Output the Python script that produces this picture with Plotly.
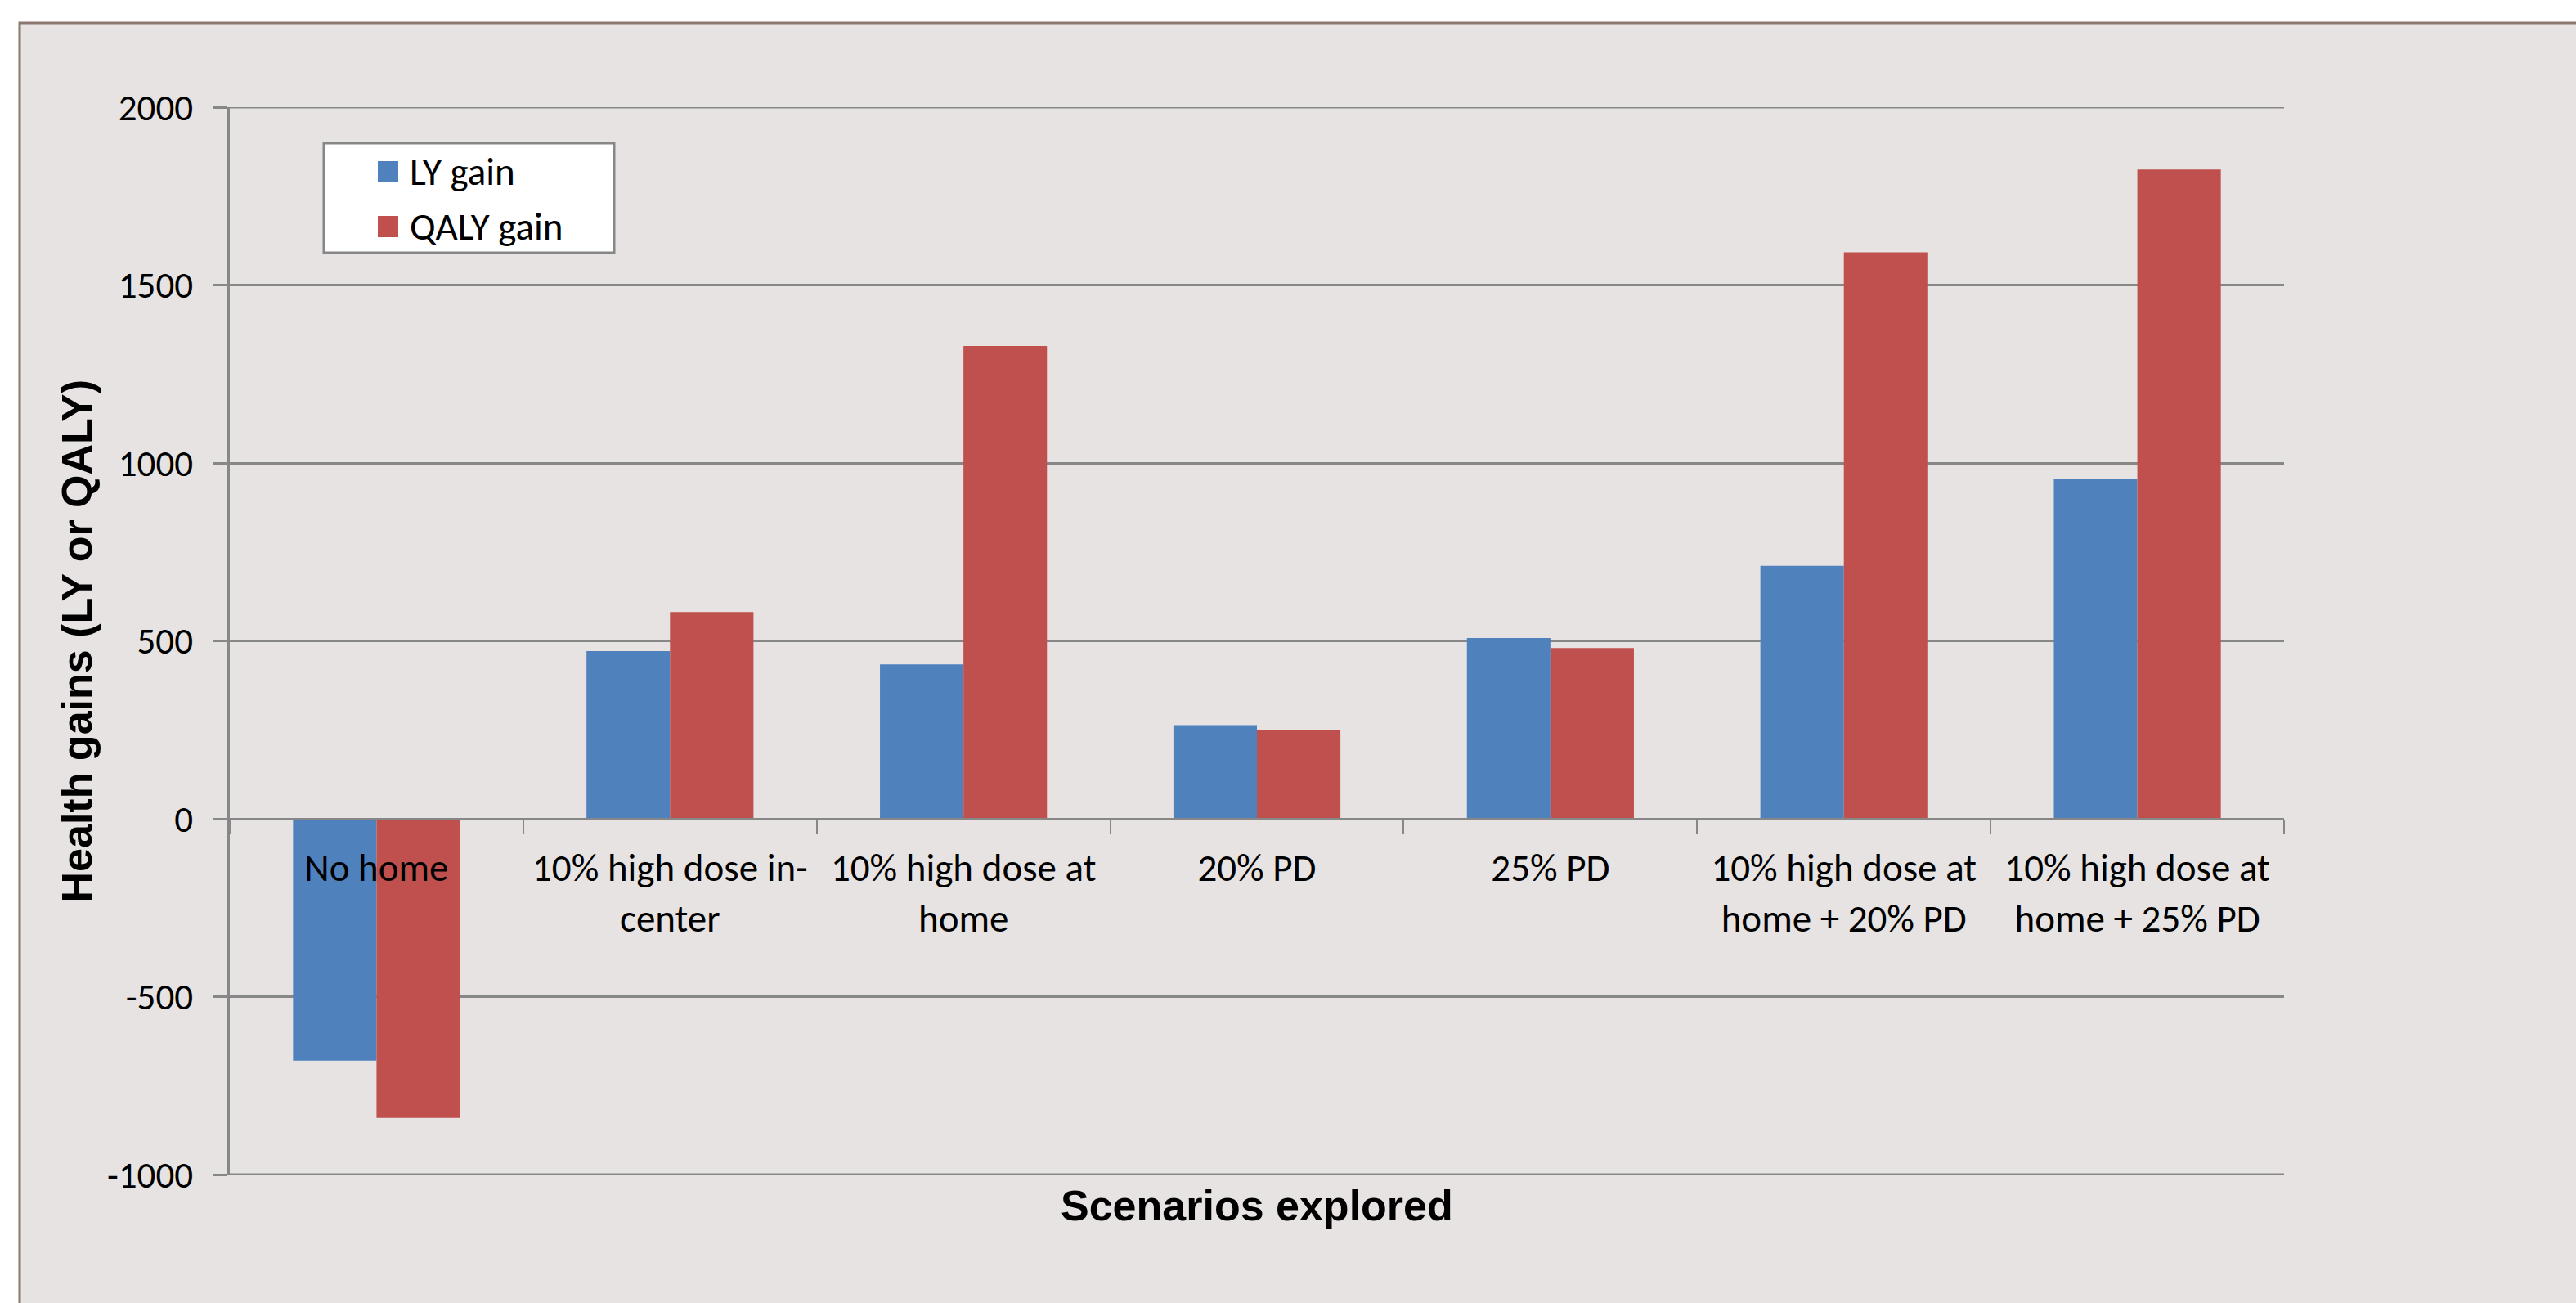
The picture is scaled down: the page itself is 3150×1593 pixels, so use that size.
import plotly.graph_objects as go

# ---- data ----
categories = ["No home", "10% high dose in-center", "10% high dose at home",
              "20% PD", "25% PD", "10% high dose at home + 20% PD",
              "10% high dose at home + 25% PD"]
tick_labels = ["No home", "10% high dose in-<br>center", "10% high dose at<br>home",
               "20% PD", "25% PD", "10% high dose at<br>home + 20% PD",
               "10% high dose at<br>home + 25% PD"]
ly_gain = [-680, 471, 434, 263, 508, 711, 955]
qaly_gain = [-841, 581, 1329, 249, 480, 1592, 1825]
series_names = ["LY gain", "QALY gain"]
y_ticks = [-1000, -500, 0, 500, 1000, 1500, 2000]

# ---- layout geometry (pixels) ----
W, H = 3150, 1593
PL, PR, PT, PB = 281, 2793, 131, 1436
BG = "#E7E3E2"
GRID = "#878787"
BLUE = "#4F81BD"
RED = "#C0504D"
TICK_FONT = "Carlito, Calibri, Lato, 'Open Sans', sans-serif"
TITLE_FONT = "Arial, 'Liberation Sans', sans-serif"

def px(x):
    return (x - PL) / (PR - PL)

def py(y):
    return (PB - y) / (PB - PT)

ymin, ymax = y_ticks[0], y_ticks[-1]

fig = go.Figure()
fig.add_trace(go.Bar(x=categories, y=ly_gain, name=series_names[0],
                     marker=dict(color=BLUE, line=dict(width=0))))
fig.add_trace(go.Bar(x=categories, y=qaly_gain, name=series_names[1],
                     marker=dict(color=RED, line=dict(width=0))))

fig.update_layout(
    width=W, height=H, autosize=False,
    margin=dict(l=PL, r=W - PR, t=PT, b=H - PB, pad=0),
    paper_bgcolor="white", plot_bgcolor=BG,
    barmode="group", bargap=0.431, bargroupgap=0,
    showlegend=False,
    xaxis=dict(
        type="category", range=[-0.5, len(categories) - 0.5],
        tickvals=categories, ticktext=tick_labels,
        anchor="free", position=(0 - ymin) / (ymax - ymin),
        showline=True, linecolor=GRID, linewidth=3,
        ticks="outside", tickson="boundaries", ticklen=17, tickwidth=2, tickcolor=GRID,
        showgrid=False, zeroline=False,
        tickfont=dict(family=TICK_FONT, size=47, color="black"),
        ticklabelstandoff=18,
    ),
    yaxis=dict(
        range=[ymin, ymax], tickvals=y_ticks, ticktext=[str(v) for v in y_ticks],
        showline=True, linecolor=GRID, linewidth=3,
        ticks="outside", ticklen=17, tickwidth=3, tickcolor=GRID,
        showgrid=True, gridcolor=GRID, gridwidth=3, zeroline=False,
        tickfont=dict(family=TICK_FONT, size=45, color="black"),
        ticklabelstandoff=16,
    ),
)

shapes = []
# chart area background with border
shapes.append(dict(type="rect", xref="paper", yref="paper", layer="below",
                   x0=px(24), x1=px(W + 20), y0=py(28), y1=py(H + 20),
                   fillcolor=BG, line=dict(color="#8C786F", width=3)))
# gridlines at the range ends (plotly omits them)
for v in (ymin, ymax):
    shapes.append(dict(type="line", xref="paper", yref="y", layer="below",
                       x0=0, x1=1, y0=v, y1=v, line=dict(color=GRID, width=3)))
# legend box
shapes.append(dict(type="rect", xref="paper", yref="paper", layer="above",
                   x0=px(396), x1=px(751), y0=py(175), y1=py(309),
                   fillcolor="white", line=dict(color=GRID, width=3)))
legend_rows = [(197, 222, BLUE, series_names[0]), (264, 290, RED, series_names[1])]
annotations = []
for y0, y1, col, name in legend_rows:
    shapes.append(dict(type="rect", xref="paper", yref="paper", layer="above",
                       x0=px(462), x1=px(487), y0=py(y0), y1=py(y1),
                       fillcolor=col, line=dict(width=0)))
    annotations.append(dict(xref="paper", yref="paper", x=px(499), y=py((y0 + y1) / 2),
                            text=name, showarrow=False, xanchor="left", yanchor="middle",
                            font=dict(family=TICK_FONT, size=47, color="black")))

annotations.append(dict(xref="paper", yref="paper", x=px((PL + PR) / 2), y=py(1474),
                        text="<b>Scenarios explored</b>", showarrow=False,
                        xanchor="center", yanchor="middle",
                        font=dict(family=TITLE_FONT, size=52, color="black")))
annotations.append(dict(xref="paper", yref="paper", x=px(93), y=py((PT + PB) / 2),
                        text="<b>Health gains (LY or QALY)</b>", showarrow=False,
                        textangle=-90, xanchor="center", yanchor="middle",
                        font=dict(family=TITLE_FONT, size=52, color="black")))

fig.update_layout(shapes=shapes, annotations=annotations)
fig.write_html("out.html")
